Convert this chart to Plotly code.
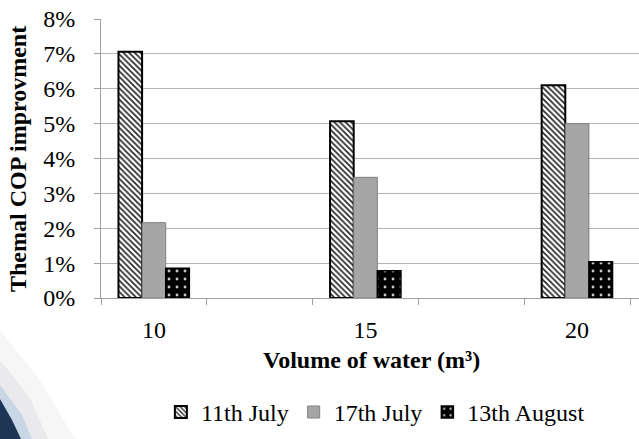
import plotly.graph_objects as go

categories = ["10", " ", "15", "  ", "20"]
data_categories = ["10", "15", "20"]
series_names = ["11th July", "17th July", "13th August"]
july11 = [0.0706, 0.0507, 0.0610]
july17 = [0.0216, 0.0346, 0.0500]
aug13 = [0.0085, 0.0078, 0.0104]
y_ticks = [0, 0.01, 0.02, 0.03, 0.04, 0.05, 0.06, 0.07, 0.08]

FONT = "Liberation Serif"

fig = go.Figure()
fig.add_trace(go.Bar(
    name=series_names[0], x=data_categories, y=july11,
    marker=dict(color="white", line=dict(color="black", width=2),
                pattern=dict(shape="\\", bgcolor="white", fgcolor="#222222",
                             size=4, solidity=0.4, fillmode="replace")),
))
fig.add_trace(go.Bar(
    name=series_names[1], x=data_categories, y=july17,
    marker=dict(color="#a6a6a6", line=dict(color="#7f7f7f", width=1)),
))
fig.add_trace(go.Bar(
    name=series_names[2], x=data_categories, y=aug13,
    marker=dict(color="black", line=dict(color="black", width=1.5),
                pattern=dict(shape=".", bgcolor="black", fgcolor="#c8c8c8",
                             size=8, solidity=0.1, fillmode="replace")),
))

W, H = 639, 439
L, R, T, B = 101, 0, 19, 141
pw, ph = W - L - R, H - T - B

def px2paper(x, y):
    return (x - L) / pw, (H - B - y) / ph

# decorative slide swoosh at bottom-left
shapes = []
def poly(pts, color):
    conv = [px2paper(x, y) for x, y in pts]
    path = "M " + " L ".join(f"{a:.4f},{b:.4f}" for a, b in conv) + " Z"
    shapes.append(dict(type="path", xref="paper", yref="paper", path=path,
                       fillcolor=color, line=dict(width=0), layer="below"))

poly([(0, 330), (40, 380), (75, 439), (0, 439)], "rgba(238,238,240,0.5)")
poly([(0, 360), (30, 398), (48, 439), (0, 439)], "rgba(222,222,226,0.5)")
poly([(0, 385), (22, 415), (32, 439), (0, 439)], "#c9d6e6")
poly([(0, 399), (12, 420), (21, 439), (0, 439)], "#1f3556")

fig.update_layout(
    width=W, height=H,
    margin=dict(l=L, r=R, t=T, b=B),
    paper_bgcolor="white", plot_bgcolor="rgba(0,0,0,0)",
    barmode="group", bargap=0.33, bargroupgap=0,
    font=dict(family=FONT, color="black", size=24),
    showlegend=True,
    legend=dict(orientation="h", x=0.51, xanchor="center", y=-0.41, yanchor="middle",
                font=dict(family=FONT, size=24, color="black"), itemwidth=30,
                traceorder="normal", bgcolor="rgba(0,0,0,0)"),
    shapes=shapes,
    annotations=[
        dict(text="<b>Volume of water (m³)</b>", xref="paper", yref="paper",
             x=0.503, y=-0.222, showarrow=False, xanchor="center", yanchor="middle",
             font=dict(family=FONT, size=24, color="black")),
        dict(text="<b>Themal COP improvment</b>", xref="paper", yref="paper",
             x=-0.153, y=0.497, showarrow=False, textangle=-90,
             xanchor="center", yanchor="middle",
             font=dict(family=FONT, size=24, color="black")),
    ],
)
fig.update_xaxes(
    type="category", categoryorder="array", categoryarray=categories,
    range=[-0.5, 4.585],
    showline=True, linecolor="#a0a0a0", linewidth=1,
    ticks="outside", tickson="boundaries", ticklen=6, tickcolor="#a0a0a0",
    showgrid=False, zeroline=False,
    tickfont=dict(family=FONT, size=24, color="black"), ticklabelstandoff=10,
)
fig.update_yaxes(
    range=[0, 0.08], tickvals=y_ticks, tickformat=".0%",
    showline=True, linecolor="#a0a0a0", linewidth=1,
    ticks="outside", ticklen=6, tickcolor="#a0a0a0",
    showgrid=True, gridcolor="#b4b4b4", gridwidth=1.3, zeroline=False,
    tickfont=dict(family=FONT, size=24, color="black"), ticklabelstandoff=14,
)

fig.write_html("out.html")
